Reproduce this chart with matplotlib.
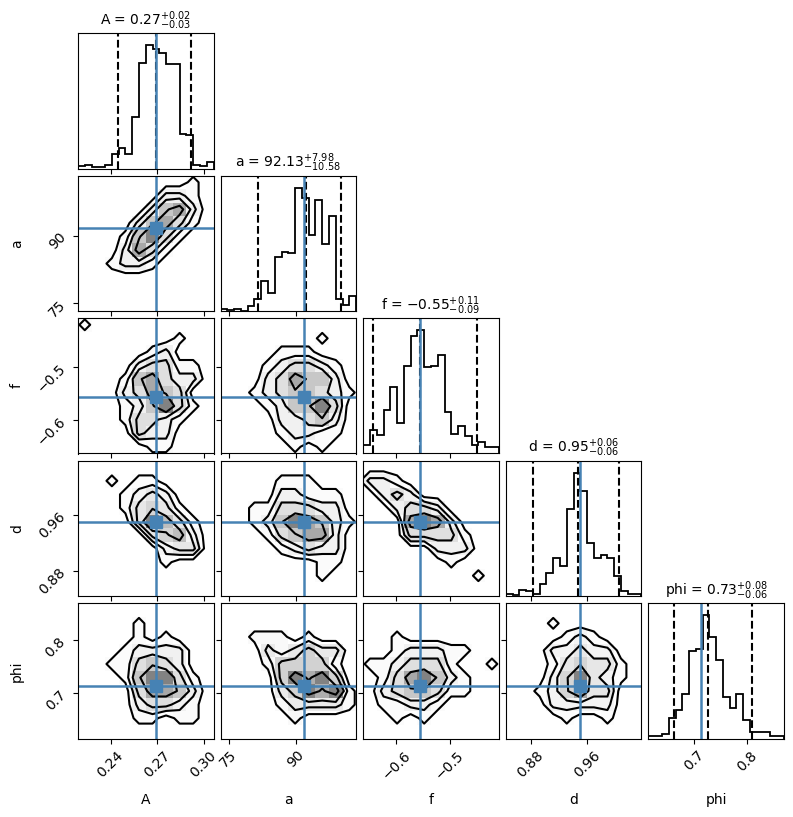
import numpy as np
import matplotlib.pyplot as plt
from matplotlib.colors import LinearSegmentedColormap

# parameter names, axis ranges and truth values
labels = ["A", "a", "f", "d", "phi"]
ranges = [(0.219, 0.3064), (73.2, 103.4), (-0.6627, -0.4075), (0.845, 1.037), (0.6156, 0.8687)]
truths = [0.2694, 91.8, -0.556, 0.950, 0.713]
ticks = [[0.24, 0.27, 0.30], [75, 90], [-0.6, -0.5], [0.88, 0.96], [0.7, 0.8]]

# 16/50/84 % quantiles (dashed lines) and the title numbers
q16 = [0.2445, 81.55, -0.645, 0.883, 0.664]
q50 = [0.2692, 92.13, -0.555, 0.947, 0.726]
q84 = [0.2922, 100.11, -0.449, 1.005, 0.8095]
med_txt = ["0.27", "92.13", "-0.55", "0.95", "0.73"]
plus_txt = ["0.02", "7.98", "0.11", "0.06", "0.08"]
minus_txt = ["0.03", "10.58", "0.09", "0.06", "0.06"]

# 1D histograms, 20 bins over each range (relative counts)
hist_A = [2, 3, 1, 1, 3, 12, 17, 12, 42, 86, 100, 97, 94, 85, 85, 28, 27, 3, 2, 5]
hist_a = [2, 1, 2, 0, 4, 10, 24, 15, 44, 48, 47, 100, 92, 62, 90, 54, 77, 10, 5, 12]
hist_f = [7, 19, 15, 35, 54, 25, 71, 95, 100, 70, 71, 80, 34, 16, 22, 14, 7, 9, 5, 5]
hist_d = [2, 1, 5, 4, 2, 10, 19, 31, 24, 71, 100, 85, 43, 31, 33, 31, 16, 4, 2, 2]
hist_phi = [2, 2, 4, 17, 23, 36, 71, 73, 100, 82, 64, 34, 25, 36, 15, 5, 5, 5, 2, 2]
hists = [hist_A, hist_a, hist_f, hist_d, hist_phi]

# 2D densities on a coarse 10x10 grid, rows listed from top to bottom
grid_a_A = [
    [0, 0, 0, 0, 0, 0, 0, 0, 1, 0],
    [0, 0, 0, 0, 0, 0, 2, 2, 1, 0],
    [0, 0, 0, 0, 0, 2, 4, 5, 2, 0],
    [0, 0, 0, 0, 2, 4, 5, 3, 1, 0],
    [0, 0, 0, 1, 4, 6, 3, 1, 0, 0],
    [0, 0, 0, 2, 5, 3, 1, 0, 0, 0],
    [0, 0, 1, 2, 2, 1, 0, 0, 0, 0],
    [0, 0, 0, 0, 0, 0, 0, 0, 0, 0],
    [0, 0, 0, 0, 0, 0, 0, 0, 0, 0],
    [0, 0, 0, 0, 0, 0, 0, 0, 0, 0],
]
grid_f_A = [
    [1, 0, 0, 0, 0, 0, 0, 0, 0, 0],
    [0, 0, 0, 0, 0, 0, 0, 1, 0, 0],
    [0, 0, 0, 0, 0, 1, 2, 0, 0, 0],
    [0, 0, 0, 0, 2, 3, 3, 1, 1, 0],
    [0, 0, 0, 1, 4, 5, 3, 2, 2, 0],
    [0, 0, 0, 2, 3, 5, 4, 3, 0, 0],
    [0, 0, 0, 1, 2, 4, 6, 3, 1, 0],
    [0, 0, 0, 1, 3, 3, 2, 1, 0, 0],
    [0, 0, 0, 0, 3, 2, 2, 0, 0, 0],
    [0, 0, 0, 0, 0, 1, 1, 0, 0, 0],
]
grid_d_A = [
    [0, 0, 0, 0, 0, 0, 0, 0, 0, 0],
    [0, 0, 1, 0, 1, 1, 0, 0, 0, 0],
    [0, 0, 0, 1, 2, 3, 2, 0, 0, 0],
    [0, 0, 0, 1, 3, 4, 3, 1, 0, 0],
    [0, 0, 0, 0, 3, 7, 5, 3, 1, 0],
    [0, 0, 0, 0, 0, 3, 4, 5, 2, 0],
    [0, 0, 0, 0, 0, 0, 2, 3, 3, 0],
    [0, 0, 0, 0, 0, 0, 1, 0, 0, 0],
    [0, 0, 0, 0, 0, 0, 0, 0, 0, 0],
    [0, 0, 0, 0, 0, 0, 0, 0, 0, 0],
]
grid_phi_A = [
    [0, 0, 0, 0, 0, 0, 0, 0, 0, 0],
    [0, 0, 0, 0, 1, 0, 0, 0, 0, 0],
    [0, 0, 0, 0, 1, 0, 1, 0, 0, 0],
    [0, 0, 0, 1, 2, 2, 2, 2, 0, 0],
    [0, 0, 1, 1, 3, 4, 3, 2, 0, 0],
    [0, 0, 0, 1, 4, 6, 6, 3, 1, 0],
    [0, 0, 0, 0, 3, 5, 5, 4, 2, 0],
    [0, 0, 0, 0, 2, 3, 3, 2, 1, 0],
    [0, 0, 0, 0, 1, 1, 0, 1, 1, 0],
    [0, 0, 0, 0, 0, 0, 0, 0, 0, 0],
]
grid_f_a = [
    [0, 0, 0, 0, 0, 0, 0, 0, 0, 0],
    [0, 0, 0, 0, 0, 0, 0, 1, 0, 0],
    [0, 0, 0, 0, 1, 1, 1, 0, 0, 0],
    [0, 0, 0, 1, 2, 3, 3, 2, 1, 0],
    [0, 0, 0, 2, 3, 5, 4, 4, 2, 0],
    [0, 0, 1, 2, 3, 4, 4, 3, 2, 1],
    [0, 0, 0, 1, 2, 4, 4, 6, 3, 0],
    [0, 0, 0, 0, 2, 2, 3, 4, 2, 0],
    [0, 0, 0, 0, 1, 2, 2, 1, 1, 0],
    [0, 0, 0, 0, 0, 1, 0, 1, 0, 0],
]
grid_d_a = [
    [0, 0, 0, 0, 0, 0, 0, 0, 0, 0],
    [0, 0, 0, 0, 1, 1, 1, 0, 0, 0],
    [0, 0, 0, 0, 2, 2, 1, 1, 1, 0],
    [0, 0, 1, 1, 3, 3, 3, 2, 2, 0],
    [0, 0, 1, 2, 4, 6, 5, 4, 2, 1],
    [0, 0, 0, 1, 3, 4, 5, 5, 2, 0],
    [0, 0, 0, 0, 1, 2, 3, 2, 2, 0],
    [0, 0, 0, 0, 0, 0, 0, 1, 1, 0],
    [0, 0, 0, 0, 0, 0, 0, 1, 0, 0],
    [0, 0, 0, 0, 0, 0, 0, 0, 0, 0],
]
grid_d_f = [
    [0, 0, 0, 0, 0, 0, 0, 0, 0, 0],
    [2, 2, 1, 0, 0, 0, 0, 0, 0, 0],
    [0, 2, 3, 2, 0, 0, 0, 0, 0, 0],
    [0, 0, 2, 3, 3, 2, 0, 0, 0, 0],
    [0, 0, 0, 5, 6, 5, 2, 0, 0, 0],
    [0, 0, 0, 3, 3, 3, 3, 1, 0, 0],
    [0, 0, 0, 0, 0, 2, 2, 2, 0, 0],
    [0, 0, 0, 0, 0, 0, 1, 0, 0, 0],
    [0, 0, 0, 0, 0, 0, 0, 0, 1, 0],
    [0, 0, 0, 0, 0, 0, 0, 0, 0, 0],
]
grid_phi_a = [
    [0, 0, 0, 0, 0, 0, 0, 0, 0, 0],
    [0, 0, 0, 0, 0, 0, 0, 0, 0, 0],
    [0, 0, 1, 1, 1, 0, 1, 0, 0, 0],
    [0, 0, 0, 2, 1, 2, 3, 2, 2, 0],
    [0, 0, 0, 1, 3, 3, 3, 3, 1, 0],
    [0, 0, 0, 0, 3, 5, 4, 5, 3, 0],
    [0, 0, 0, 0, 2, 3, 5, 4, 5, 1],
    [0, 0, 0, 0, 1, 2, 2, 2, 2, 1],
    [0, 0, 0, 0, 0, 1, 0, 0, 0, 0],
    [0, 0, 0, 0, 0, 0, 0, 0, 0, 0],
]
grid_phi_f = [
    [0, 0, 0, 0, 0, 0, 0, 0, 0, 0],
    [0, 0, 0, 0, 0, 0, 0, 0, 0, 0],
    [0, 0, 1, 0, 0, 0, 0, 0, 0, 0],
    [0, 0, 1, 2, 2, 2, 1, 1, 0, 0],
    [1, 1, 2, 3, 3, 3, 1, 0, 0, 1],
    [0, 1, 3, 5, 6, 4, 2, 1, 0, 0],
    [0, 2, 3, 4, 4, 3, 1, 1, 0, 0],
    [0, 1, 1, 2, 2, 1, 0, 0, 0, 0],
    [0, 0, 1, 0, 1, 0, 0, 0, 0, 0],
    [0, 0, 0, 0, 0, 0, 0, 0, 0, 0],
]
grid_phi_d = [
    [0, 0, 0, 0, 0, 0, 0, 0, 0, 0],
    [0, 0, 0, 1, 0, 0, 0, 0, 0, 0],
    [0, 0, 0, 0, 1, 2, 1, 0, 0, 0],
    [0, 0, 0, 2, 2, 3, 2, 2, 0, 0],
    [0, 0, 0, 1, 3, 4, 3, 3, 1, 0],
    [0, 0, 0, 2, 4, 7, 3, 2, 1, 0],
    [0, 0, 1, 2, 4, 6, 3, 3, 0, 0],
    [0, 0, 0, 2, 2, 2, 2, 2, 0, 0],
    [0, 0, 0, 0, 1, 0, 0, 1, 0, 0],
    [0, 0, 0, 0, 0, 0, 0, 0, 0, 0],
]
grids = {
    (1, 0): grid_a_A,
    (2, 0): grid_f_A, (2, 1): grid_f_a,
    (3, 0): grid_d_A, (3, 1): grid_d_a, (3, 2): grid_d_f,
    (4, 0): grid_phi_A, (4, 1): grid_phi_a, (4, 2): grid_phi_f, (4, 3): grid_phi_d,
}

truth_color = "#4682b4"
density_cmap = LinearSegmentedColormap.from_list("dens", [(1, 1, 1, 0), (0.35, 0.35, 0.35, 1)])
levels = [0.6, 1.6, 2.6, 4.2]

W, H = 793, 817
fig = plt.figure(figsize=(W / 100, H / 100), dpi=100)
col_left = [78, 220.6, 363.2, 505.8, 648.4]
row_top = [33, 175.5, 318, 460.5, 603]
size = 135.5
n = len(labels)

for i in range(n):
    for j in range(i + 1):
        ax = fig.add_axes([col_left[j] / W, 1 - (row_top[i] + size) / H, size / W, size / H])
        xlo, xhi = ranges[j]
        if i == j:
            edges = np.linspace(xlo, xhi, 21)
            ax.hist(edges[:-1], bins=edges, weights=hists[i], histtype="step", color="k", lw=1.3)
            for q in (q16[i], q50[i], q84[i]):
                ax.axvline(q, color="k", ls="--", lw=1.5)
            ax.axvline(truths[i], color=truth_color, lw=1.8)
            ax.set_ylim(0, 1.1 * max(hists[i]))
            ax.set_yticks([])
            ax.set_title(f"{labels[i]} = ${med_txt[i]}_{{-{minus_txt[i]}}}^{{+{plus_txt[i]}}}$", fontsize=10)
        else:
            ylo, yhi = ranges[i]
            g = np.array(grids[(i, j)], dtype=float)[::-1]
            xe = np.linspace(xlo, xhi, 11)
            ye = np.linspace(ylo, yhi, 11)
            ax.pcolormesh(xe, ye, g, cmap=density_cmap, vmin=0, vmax=g.max() * 1.15)
            dx = xe[1] - xe[0]
            dy = ye[1] - ye[0]
            xc = np.concatenate([[xe[0] - dx / 2], (xe[:-1] + xe[1:]) / 2, [xe[-1] + dx / 2]])
            yc = np.concatenate([[ye[0] - dy / 2], (ye[:-1] + ye[1:]) / 2, [ye[-1] + dy / 2]])
            ax.contour(xc, yc, np.pad(g, 1), levels=levels, colors="k", linewidths=1.5)
            ax.axvline(truths[j], color=truth_color, lw=1.8)
            ax.axhline(truths[i], color=truth_color, lw=1.8)
            ax.plot(truths[j], truths[i], "s", color=truth_color, ms=8)
            ax.set_ylim(ylo, yhi)
            ax.set_yticks(ticks[i])
            if j == 0:
                ax.set_ylabel(labels[i], fontsize=10)
                ax.yaxis.set_label_coords(-0.40, 0.5)
                ax.tick_params(axis="y", labelrotation=45)
            else:
                ax.set_yticklabels([])
        ax.set_xlim(xlo, xhi)
        ax.set_xticks(ticks[j])
        if i == n - 1:
            ax.set_xlabel(labels[j], fontsize=10)
            ax.xaxis.set_label_coords(0.5, -0.40)
            ax.tick_params(axis="x", labelrotation=45)
        else:
            ax.set_xticklabels([])

fig.savefig("out.png", dpi=100)
